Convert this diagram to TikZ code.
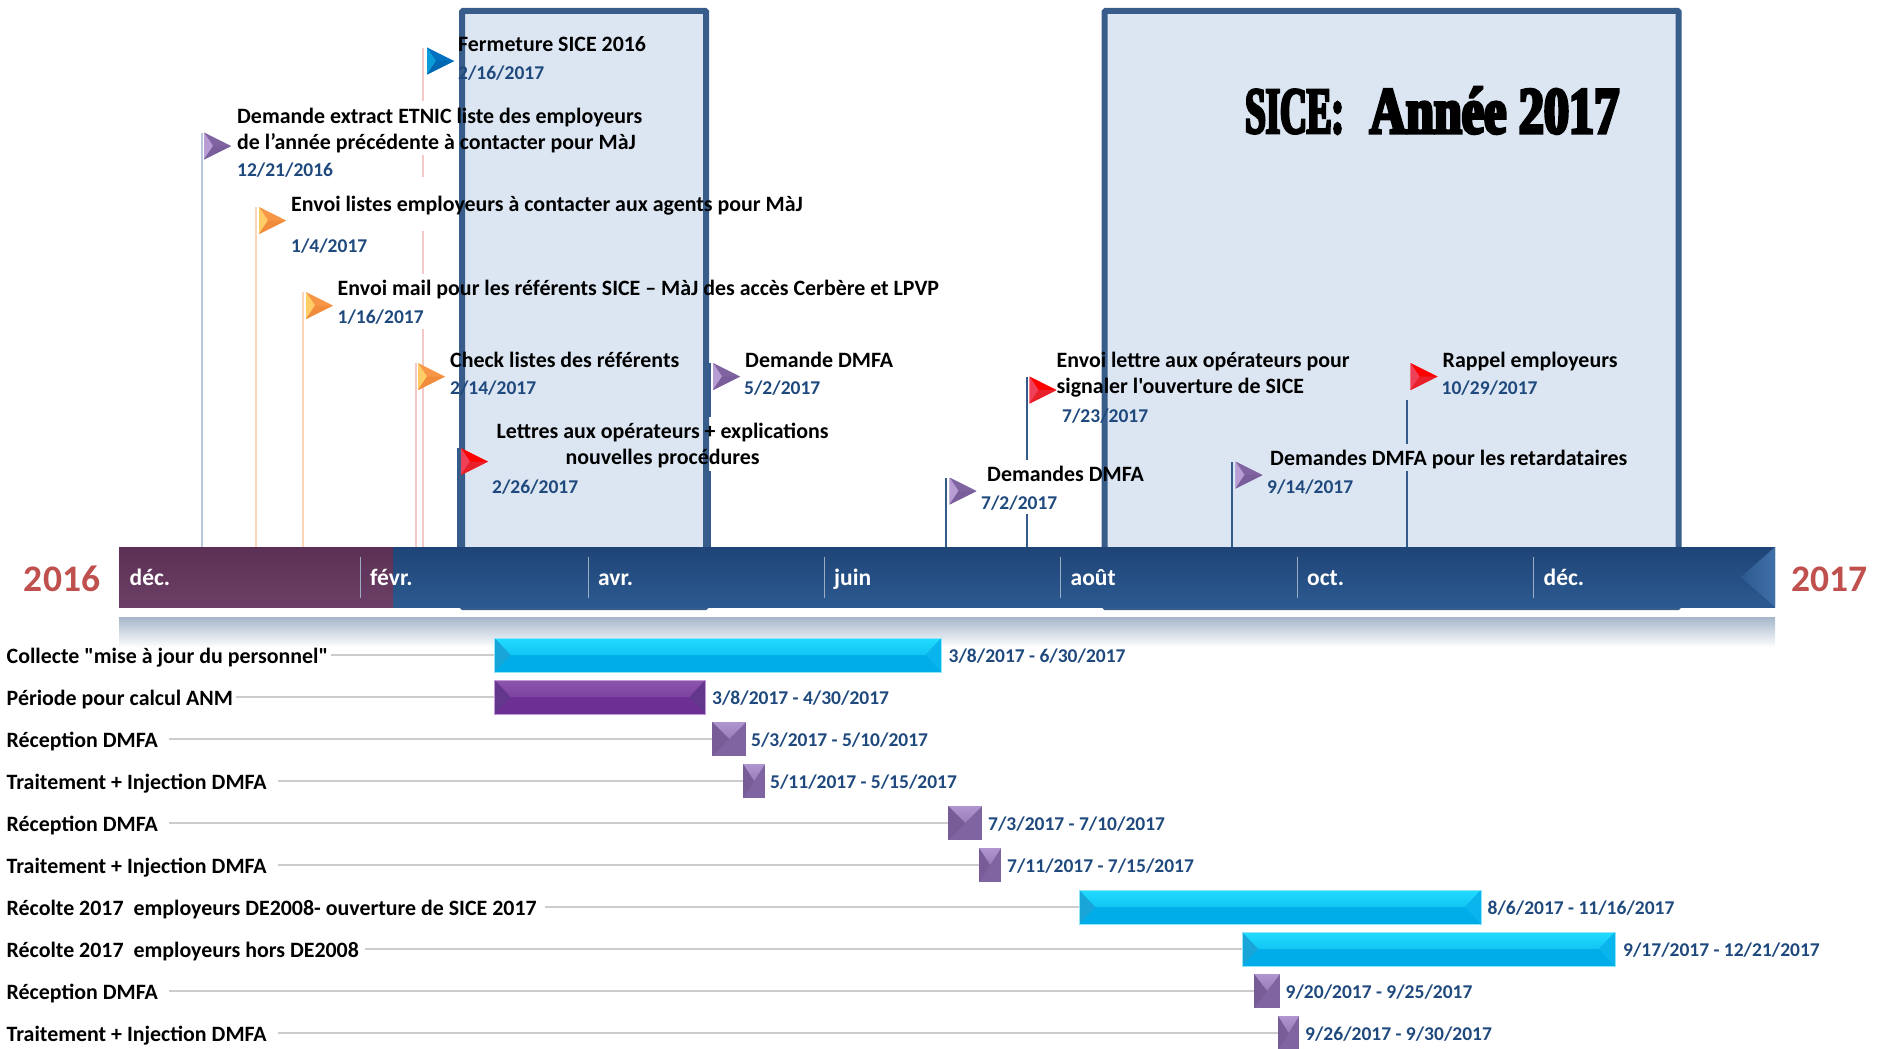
\documentclass[tikz,border=0pt]{standalone}
\usepackage{fontspec}
\setmainfont{Carlito}[Ligatures=TeXOff]
\newfontfamily\titlefont[FakeBold=5,FakeStretch=0.76]{Liberation Serif Bold}
\newfontfamily\titlenarrow[FakeBold=4,FakeStretch=0.56]{Liberation Serif Bold}
\usepackage{tikz}
\usetikzlibrary{shapes.geometric}
\usetikzlibrary{calc}
\pgfdeclarelayer{nodelayer}
\pgfdeclarelayer{edgelayer}
\pgfsetlayers{edgelayer,nodelayer,main}
\definecolor{navy}{HTML}{1F497D}
\definecolor{yearred}{HTML}{C0504D}
\definecolor{winedge}{HTML}{385D8A}
\definecolor{winfill}{HTML}{DCE6F2}
\definecolor{cyanmain}{HTML}{00ADE9}
\definecolor{cyantop}{HTML}{22DCFF}
\definecolor{cyanleft}{HTML}{1AA5D8}
\definecolor{cyanright}{HTML}{0AB4EC}
\definecolor{cyanedge}{HTML}{8FE6FA}
\definecolor{plummain}{HTML}{6E2F94}
\definecolor{plumtop}{HTML}{8B55AC}
\definecolor{plumside}{HTML}{63378B}
\definecolor{plumedge}{HTML}{C49ADB}
\definecolor{mauvemain}{HTML}{8063A1}
\definecolor{mauvetop}{HTML}{B096D0}
\definecolor{mauveside}{HTML}{775C98}
\definecolor{bandtop}{HTML}{1F4477}
\definecolor{bandbot}{HTML}{2C5A90}
\definecolor{wedge}{HTML}{4070A8}
\definecolor{winetop}{HTML}{5C3055}
\definecolor{winebot}{HTML}{6C4066}
\definecolor{stemgreycol}{HTML}{B9C7DC}
\definecolor{stempeachcol}{HTML}{FBD5B5}
\definecolor{stempinkcol}{HTML}{F2C9C8}
\definecolor{lilacbody}{HTML}{8064A2}
\definecolor{lilaclight}{HTML}{B79DD3}
\definecolor{lilacdark}{HTML}{7A5E9C}
\definecolor{amberbody}{HTML}{F79646}
\definecolor{amberlight}{HTML}{FFCC66}
\definecolor{amberdark}{HTML}{F08C3C}
\definecolor{redbody}{HTML}{FF0000}
\definecolor{redlight}{HTML}{F04058}
\definecolor{reddark}{HTML}{E8202C}
\definecolor{bluebody}{HTML}{0070C0}
\definecolor{bluelight}{HTML}{0A9BD8}
\definecolor{bluedark}{HTML}{0068B0}
\tikzset{every picture/.append style={x=1pt,y=-1pt}}
\tikzset{window/.style={draw=winedge, fill=winfill, line width=6pt, rounded corners=1pt, anchor=north west, inner sep=0pt}}
\tikzset{txt/.style={anchor=west, inner sep=0pt, font=\fontsize{21.9}{26}\selectfont\bfseries, text height=21pt, text depth=4pt}}
\tikzset{txtm/.style={anchor=west, inner sep=0pt, font=\fontsize{21.9}{26}\selectfont\bfseries}}
\tikzset{date/.style={txt, text=navy, font=\fontsize{19.5}{24}\selectfont\bfseries, text height=19pt}}
\tikzset{month/.style={txt, text=white, font=\fontsize{23.5}{26}\selectfont\bfseries}}
\tikzset{year/.style={anchor=center, inner sep=0pt, text=yearred, font=\fontsize{37.5}{40}\selectfont\bfseries}}
\tikzset{stem/.style={line width=2pt}}
\tikzset{stemblue/.style={stem, draw=navy!90}}
\tikzset{stemgrey/.style={stem, draw=stemgreycol}}
\tikzset{stempeach/.style={stem, draw=stempeachcol}}
\tikzset{stempink/.style={stem, draw=stempinkcol}}
\tikzset{tick/.style={line width=1pt, draw=white!55!navy}}
\tikzset{rowline/.style={line width=2pt, draw=black!20}}
\tikzset{band/.style={anchor=north west, inner sep=0pt, outer sep=0pt, minimum height=60pt}}
\tikzset{flag/.style n args={3}{isosceles triangle, isosceles triangle stretches, shape border rotate=0, inner sep=0pt, outer sep=0pt, minimum width=27pt, minimum height=27pt, anchor=apex, fill=#1, path picture={
\fill [#2] (path picture bounding box.north west) -- ($(path picture bounding box.west)+(9,0)$) -- (path picture bounding box.south west) -- cycle;
\fill [#3] (path picture bounding box.south west) -- ($(path picture bounding box.west)+(9,0)$) -- (path picture bounding box.east) -- (path picture bounding box.south east) -- cycle;
}}}
\tikzset{flagpurple/.style={flag={lilacbody}{lilaclight}{lilacdark}}}
\tikzset{flagorange/.style={flag={amberbody}{amberlight}{amberdark}}}
\tikzset{flagred/.style={flag={redbody}{redlight}{reddark}}}
\tikzset{flagblue/.style={flag={bluebody}{bluelight}{bluedark}}}
\tikzset{bar/.style n args={5}{anchor=west, inner sep=0pt, outer sep=0pt, minimum height=34pt, draw=#5, line width=1pt, fill=#2, path picture={
\shade [top color=#1, bottom color=#2] (path picture bounding box.north west) -- (path picture bounding box.north east) -- ($(path picture bounding box.east)+(-16,0)$) -- ($(path picture bounding box.west)+(16,0)$) -- cycle;
\fill [#3] (path picture bounding box.north west) -- ($(path picture bounding box.west)+(16,0)$) -- (path picture bounding box.south west) -- cycle;
\fill [#4] (path picture bounding box.north east) -- ($(path picture bounding box.east)+(-16,0)$) -- (path picture bounding box.south east) -- cycle;
}}}
\tikzset{cyanbar/.style={bar={cyantop}{cyanmain}{cyanleft}{cyanright}{cyanedge}}}
\tikzset{plumbar/.style={bar={plumtop}{plummain}{plumside}{plumside}{plumedge}}}
\tikzset{smallbar/.style={anchor=west, inner sep=0pt, outer sep=0pt, minimum height=34pt, fill=mauvemain, path picture={
\shade [top color=mauvetop, bottom color=mauvemain] (path picture bounding box.north west) -- (path picture bounding box.north east) -- (path picture bounding box.center) -- cycle;
\fill [mauveside] (path picture bounding box.north west) -- (path picture bounding box.center) -- (path picture bounding box.south west) -- cycle;
}}}
\begin{document}
\begin{tikzpicture}
	\useasboundingbox (0,0) rectangle (1877,1049);
	\begin{pgfonlayer}{nodelayer}
		\node [style=band, minimum width=1656pt, top color=bandtop, bottom color=bandbot] (timeband) at (119,547) {};
		\node [style=band, minimum width=274pt, top color=winetop, bottom color=winebot] (wineband) at (119,547) {};
		\node [anchor=north west, inner sep=0pt, minimum width=1656pt, minimum height=30pt, top color=navy!40!white, bottom color=white] (shadow) at (119,617) {};
		\shade [left color=bandbot, right color=wedge] (1775,547) -- (1741,577) -- (1775,607) -- cycle;
		\node [style=year] (y16) at (62,579) {2016};
		\node [style=year] (y17) at (1829,579) {2017};

		\node [style=month] (m1) at (129.5,577) {déc.};
		\node [style=month] (m2) at (370,577) {févr.};
		\node [style=month] (m3) at (598,577) {avr.};
		\node [style=month] (m4) at (834,577) {juin};
		\node [style=month] (m5) at (1070.5,577) {août};
		\node [style=month] (m6) at (1307,577) {oct.};
		\node [style=month] (m7) at (1543.5,577) {déc.};

		\node [style=flagpurple] (f1) at (231,146) {};
		\node [style=flagorange] (f2) at (286,220.5) {};
		\node [style=flagorange] (f3) at (333,305.5) {};
		\node [style=flagorange] (f4) at (445,376.5) {};
		\node [style=flagblue] (f5) at (454,61) {};
		\node [style=flagred] (f6) at (488,461.5) {};
		\node [style=flagpurple] (f7) at (740,376.5) {};
		\node [style=flagpurple] (f8) at (976.5,491) {};
		\node [style=flagred] (f9) at (1056.5,390) {};
		\node [style=flagpurple] (f10) at (1262.5,475) {};
		\node [style=flagred] (f11) at (1437.5,376.5) {};

		\node [style=txtm, align=left] (t1) at (237,131) {Demande extract ETNIC liste des employeurs\\de l’année précédente à contacter pour MàJ};
		\node [style=date] (d1) at (237,169) {12/21/2016};
		\node [style=txt] (t2) at (291,203) {Envoi listes employeurs à contacter aux agents pour MàJ};
		\node [style=date] (d2) at (291,245) {1/4/2017};
		\node [style=txt] (t3) at (337.5,287) {Envoi mail pour les référents SICE – MàJ des accès Cerbère et LPVP};
		\node [style=date] (d3) at (337.5,316) {1/16/2017};
		\node [style=txt] (t4) at (450,359) {Check listes des référents};
		\node [style=date] (d4) at (450,387) {2/14/2017};
		\node [style=txt] (t5) at (458,43.5) {Fermeture SICE 2016};
		\node [style=date] (d5) at (458,71.5) {2/16/2017};
		\node [style=txtm, align=center, anchor=center] (t6) at (662.6,446) {Lettres aux opérateurs + explications\\nouvelles procédures};
		\node [style=date] (d6) at (492,486) {2/26/2017};
		\node [style=txt] (t7) at (745,359) {Demande DMFA};
		\node [style=date] (d7) at (744,387) {5/2/2017};
		\node [style=txt] (t8) at (987,473) {Demandes DMFA};
		\node [style=date] (d8) at (981,502) {7/2/2017};
		\node [style=txtm, align=left] (t9) at (1056.5,375) {Envoi lettre aux opérateurs pour\\signaler l'ouverture de SICE};
		\node [style=date] (d9) at (1062,414.5) {7/23/2017};
		\node [style=txt] (t10) at (1270,457) {Demandes DMFA pour les retardataires};
		\node [style=date] (d10) at (1267,486) {9/14/2017};
		\node [style=txt] (t11) at (1442.5,359) {Rappel employeurs};
		\node [style=date] (d11) at (1441.5,387) {10/29/2017};

		\node [anchor=north west, inner sep=0pt, font=\fontsize{66}{70}\selectfont] (title) at (1245,87) {\titlenarrow SICE:\hspace*{26pt}\titlefont Année 2017};

		\node [style=txt] (r1) at (6.5,655) {Collecte "mise à jour du personnel"};
		\node [style=txt] (r2) at (6.5,697) {Période pour calcul ANM};
		\node [style=txt] (r3) at (6.5,739) {Réception DMFA};
		\node [style=txt] (r4) at (6.5,781) {Traitement + Injection DMFA};
		\node [style=txt] (r5) at (6.5,823) {Réception DMFA};
		\node [style=txt] (r6) at (6.5,865) {Traitement + Injection DMFA};
		\node [style=txt] (r7) at (6.5,907) {Récolte 2017\ \ employeurs DE2008- ouverture de SICE 2017};
		\node [style=txt] (r8) at (6.5,949) {Récolte 2017\ \ employeurs hors DE2008};
		\node [style=txt] (r9) at (6.5,991) {Réception DMFA};
		\node [style=txt] (r10) at (6.5,1033) {Traitement + Injection DMFA};

		\node [style=cyanbar, minimum width=447pt] (b1) at (494.5,655) {};
		\node [style=plumbar, minimum width=211pt] (b2) at (494.5,697) {};
		\node [style=smallbar, minimum width=34pt] (b3) at (712,739) {};
		\node [style=smallbar, minimum width=22pt] (b4) at (743,781) {};
		\node [style=smallbar, minimum width=34pt] (b5) at (948,823) {};
		\node [style=smallbar, minimum width=22pt] (b6) at (979,865) {};
		\node [style=cyanbar, minimum width=402pt] (b7) at (1079,907) {};
		\node [style=cyanbar, minimum width=373pt] (b8) at (1242,949) {};
		\node [style=smallbar, minimum width=26pt] (b9) at (1254,991) {};
		\node [style=smallbar, minimum width=21pt] (b10) at (1278,1033) {};

		\node [style=date] (p1) at (948.5,655) {3/8/2017 - 6/30/2017};
		\node [style=date] (p2) at (712,697) {3/8/2017 - 4/30/2017};
		\node [style=date] (p3) at (751,739) {5/3/2017 - 5/10/2017};
		\node [style=date] (p4) at (770,781) {5/11/2017 - 5/15/2017};
		\node [style=date] (p5) at (988,823) {7/3/2017 - 7/10/2017};
		\node [style=date] (p6) at (1007,865) {7/11/2017 - 7/15/2017};
		\node [style=date] (p7) at (1487.5,907) {8/6/2017 - 11/16/2017};
		\node [style=date] (p8) at (1623,949) {9/17/2017 - 12/21/2017};
		\node [style=date] (p9) at (1285.5,991) {9/20/2017 - 9/25/2017};
		\node [style=date] (p10) at (1305,1033) {9/26/2017 - 9/30/2017};
	\end{pgfonlayer}
	\begin{pgfonlayer}{edgelayer}
		\node [style=window, minimum width=244pt, minimum height=596pt] (win1) at (459,8) {};
		\node [style=window, minimum width=574pt, minimum height=596pt] (win2) at (1101.5,8) {};

		\coordinate (s1a) at (202,133);
		\coordinate (s1b) at (202,547);
		\coordinate (s2a) at (256,207);
		\coordinate (s2b) at (256,547);
		\coordinate (s3a) at (303,292);
		\coordinate (s3b) at (303,547);
		\coordinate (s4a) at (415.5,363);
		\coordinate (s4b) at (415.5,547);
		\coordinate (s5a) at (422.5,48);
		\coordinate (s5b) at (422.5,101);
		\coordinate (s5c) at (422.5,155);
		\coordinate (s5d) at (422.5,177);
		\coordinate (s5e) at (422.5,231);
		\coordinate (s5f) at (422.5,274);
		\coordinate (s5g) at (422.5,329);
		\coordinate (s5h) at (422.5,547);
		\coordinate (s6a) at (457.5,448);
		\coordinate (s6b) at (457.5,547);
		\coordinate (s7a) at (709.5,363);
		\coordinate (s7b) at (709.5,417);
		\coordinate (s7c) at (709.5,471);
		\coordinate (s7d) at (709.5,547);
		\coordinate (s8a) at (946,477.5);
		\coordinate (s8b) at (946,547);
		\coordinate (s9a) at (1026.5,377);
		\coordinate (s9b) at (1026.5,460);
		\coordinate (s9c) at (1026.5,513.5);
		\coordinate (s9d) at (1026.5,547);
		\coordinate (s10a) at (1232,461.5);
		\coordinate (s10b) at (1232,547);
		\coordinate (s11a) at (1406.5,400);
		\coordinate (s11b) at (1406.5,444);
		\coordinate (s11c) at (1406.5,471);
		\coordinate (s11d) at (1406.5,547);

		\draw [style=stemgrey] (s1a) to (s1b);
		\draw [style=stempeach] (s2a) to (s2b);
		\draw [style=stempeach] (s3a) to (s3b);
		\draw [style=stempink] (s4a) to (s4b);
		\draw [style=stempink] (s5a) to (s5b);
		\draw [style=stempink] (s5c) to (s5d);
		\draw [style=stempink] (s5e) to (s5f);
		\draw [style=stempink] (s5g) to (s5h);
		\draw [style=stemblue] (s6a) to (s6b);
		\draw [style=stemblue] (s7a) to (s7b);
		\draw [style=stemblue] (s7c) to (s7d);
		\draw [style=stemblue] (s8a) to (s8b);
		\draw [style=stemblue] (s9a) to (s9b);
		\draw [style=stemblue] (s9c) to (s9d);
		\draw [style=stemblue] (s10a) to (s10b);
		\draw [style=stemblue] (s11a) to (s11b);
		\draw [style=stemblue] (s11c) to (s11d);

		\draw [style=rowline, shorten <=3pt] (r1) to (b1);
		\draw [style=rowline, shorten <=3pt] (r2) to (b2);
		\draw [style=rowline, shorten <=11pt] (r3) to (b3);
		\draw [style=rowline, shorten <=11pt] (r4) to (b4);
		\draw [style=rowline, shorten <=11pt] (r5) to (b5);
		\draw [style=rowline, shorten <=11pt] (r6) to (b6);
		\draw [style=rowline, shorten <=8pt] (r7) to (b7);
		\draw [style=rowline, shorten <=6pt] (r8) to (b8);
		\draw [style=rowline, shorten <=11pt] (r9) to (b9);
		\draw [style=rowline, shorten <=11pt] (r10) to (b10);
	\end{pgfonlayer}
	\coordinate (k1a) at (360,557);
	\coordinate (k1b) at (360,598);
	\coordinate (k2a) at (588,557);
	\coordinate (k2b) at (588,598);
	\coordinate (k3a) at (824,557);
	\coordinate (k3b) at (824,598);
	\coordinate (k4a) at (1060,557);
	\coordinate (k4b) at (1060,598);
	\coordinate (k5a) at (1297,557);
	\coordinate (k5b) at (1297,598);
	\coordinate (k6a) at (1533.5,557);
	\coordinate (k6b) at (1533.5,598);
	\draw [style=tick] (k1a) to (k1b);
	\draw [style=tick] (k2a) to (k2b);
	\draw [style=tick] (k3a) to (k3b);
	\draw [style=tick] (k4a) to (k4b);
	\draw [style=tick] (k5a) to (k5b);
	\draw [style=tick] (k6a) to (k6b);
\end{tikzpicture}
\end{document}
